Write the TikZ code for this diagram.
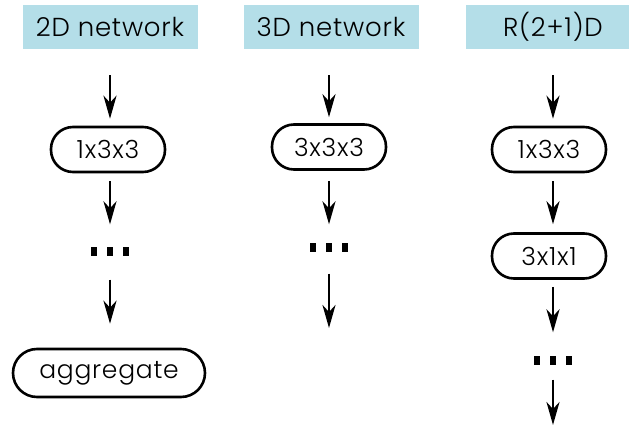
\documentclass[tikz,border=0pt]{standalone}
\usepackage{fontspec}
\setmainfont{Poppins Light}[LetterSpace=3]
\usetikzlibrary{arrows.meta}
\definecolor{headblue}{HTML}{B4DEE8}
\tikzset{
  x=1pt, y=-1pt,
  header/.style={fill=headblue, minimum width=175pt, minimum height=44pt,
    inner sep=0pt, font=\fontsize{26}{30}\selectfont},
  layer/.style={draw, line width=2.6pt, rounded corners=22pt, minimum width=114pt,
    minimum height=45pt, inner sep=0pt, font=\fontsize{25}{30}\selectfont},
  dots/.style={inner sep=0pt},
  arr/.style={line width=2.6pt, -{Stealth[length=23pt, width=13pt, inset=7pt]}}
}
\newcommand{\dotrow}{\rule{6pt}{9pt}\hspace{10pt}\rule{6pt}{9pt}\hspace{10pt}\rule{6pt}{9pt}}
\begin{document}
\begin{tikzpicture}
\useasboundingbox (0,0) rectangle (629,428);
% 2D network column
\node[header] (h1) at (110,27) {2D network};
\node[layer] (a1) at (108,149.5) {1x3x3};
\node[dots] (d1) at (110,251) {\dotrow};
\node[layer, minimum width=192pt, minimum height=48pt, rounded corners=24pt] (g1) at (109,373) {aggregate};
\draw[arr, shorten <=26pt, shorten >=7pt] (h1.south -| 110,0) -- (a1.north -| 110,0);
\draw[arr, shorten <=8pt, shorten >=22pt] (a1.south -| 110,0) -- (d1.north);
\draw[arr, shorten <=24pt, shorten >=24pt] (d1.south) -- (g1.north -| 110,0);
% 3D network column
\node[header] (h2) at (331,27) {3D network};
\node[layer] (b1) at (329,147) {3x3x3};
\node[dots] (d2) at (329,247) {\dotrow};
\coordinate (e2) at (329,328);
\draw[arr, shorten <=26pt, shorten >=6pt] (h2.south -| 329,0) -- (b1.north);
\draw[arr, shorten <=10pt, shorten >=18pt] (b1.south) -- (d2.north);
\draw[arr, shorten <=22pt] (d2.south) -- (e2);
% R(2+1)D column
\node[header] (h3) at (553,27) {R(2+1)D};
\node[layer] (c1) at (549,149.5) {1x3x3};
\node[layer] (c2) at (549,256) {3x1x1};
\node[dots] (d3) at (553,360) {\dotrow};
\coordinate (e3) at (553,425);
\draw[arr, shorten <=26pt, shorten >=7pt] (h3.south -| 553,0) -- (c1.north -| 553,0);
\draw[arr, shorten <=8pt, shorten >=8pt] (c1.south -| 553,0) -- (c2.north -| 553,0);
\draw[arr, shorten <=7pt, shorten >=23pt] (c2.south -| 553,0) -- (d3.north);
\draw[arr, shorten <=15pt] (d3.south) -- (e3);
\end{tikzpicture}
\end{document}
